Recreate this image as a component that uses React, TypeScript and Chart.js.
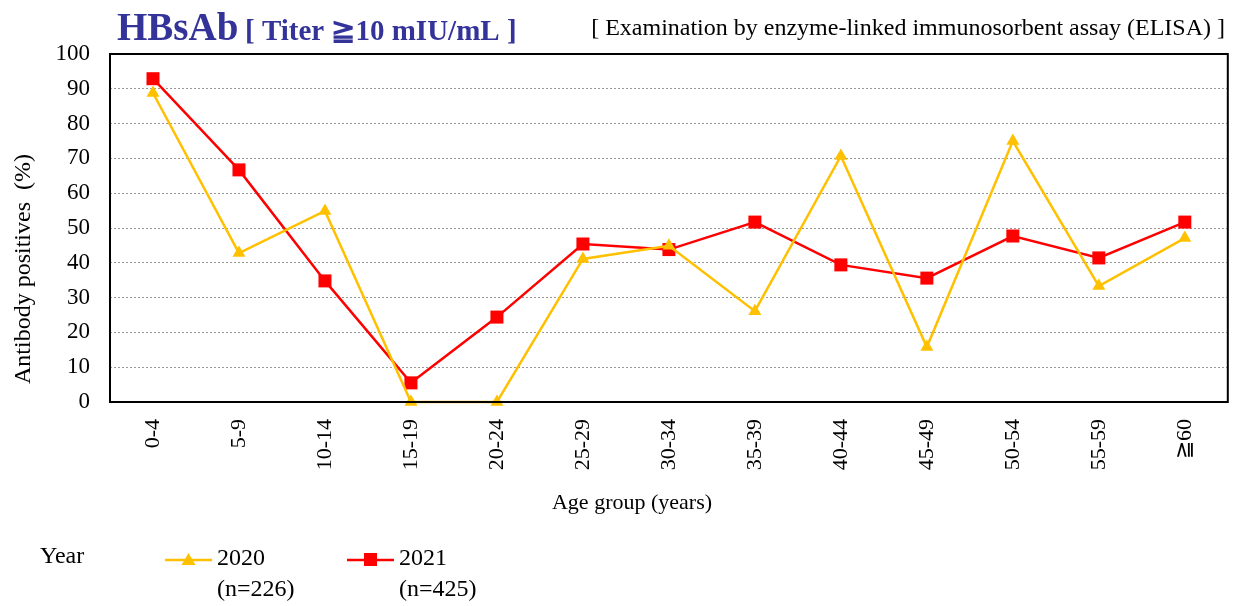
import React, { useEffect, useRef } from "react";
import { Chart, registerables } from "chart.js";

Chart.register(...registerables);

const categories = ["0-4", "5-9", "10-14", "15-19", "20-24", "25-29", "30-34", "35-39", "40-44", "45-49", "50-54", "55-59", "≧60"];
const values2020 = [88.8, 42.8, 54.9, 0, 0, 41.1, 44.9, 26.1, 70.7, 15.8, 75.0, 33.3, 47.1];
const values2021 = [92.9, 66.7, 34.8, 5.5, 24.4, 45.4, 43.8, 51.7, 39.4, 35.6, 47.7, 41.4, 51.7];
const seriesLabels = ["2020", "2021"];
const seriesN = ["(n=226)", "(n=425)"];
const yTicks = [0, 10, 20, 30, 40, 50, 60, 70, 80, 90, 100];

const C2020 = "#FFC000";
const C2021 = "#FF0000";
const SERIF = "'Liberation Serif', 'Times New Roman', serif";

const decorPlugin = {
  id: "decor",
  afterDraw(chart: any) {
    const { ctx, chartArea } = chart;
    const { left, right, top, bottom } = chartArea;
    ctx.save();
    // plot border
    ctx.strokeStyle = "#000";
    ctx.lineWidth = 2;
    ctx.strokeRect(left, top, right - left, bottom - top);

    // Title
    ctx.textBaseline = "alphabetic";
    ctx.textAlign = "left";
    ctx.fillStyle = "#333399";
    ctx.font = `bold 39px ${SERIF}`;
    ctx.fillText("HBsAb", 117, 40);
    ctx.font = `bold 29px ${SERIF}`;
    ctx.fillText("[ Titer ≧10 mIU/mL ]", 245, 40);
    ctx.fillStyle = "#000";
    ctx.font = `24px ${SERIF}`;
    ctx.textAlign = "right";
    ctx.fillText("[ Examination by enzyme-linked immunosorbent assay (ELISA) ]", 1225, 35);

    // Y title
    ctx.save();
    ctx.translate(24, 269);
    ctx.rotate(-Math.PI / 2);
    ctx.textAlign = "center";
    ctx.textBaseline = "middle";
    ctx.font = `24px ${SERIF}`;
    ctx.fillText("Antibody positives  (%)", 0, 0);
    ctx.restore();

    // X title
    ctx.textAlign = "center";
    ctx.textBaseline = "middle";
    ctx.font = `22px ${SERIF}`;
    ctx.fillText("Age group (years)", 632, 503);

    // Legend
    ctx.textAlign = "left";
    ctx.font = `24px ${SERIF}`;
    ctx.fillText("Year", 40, 557);
    const items = [
      { x: 165, color: C2020, style: "triangle" },
      { x: 347, color: C2021, style: "rect" },
    ];
    items.forEach((it, i) => {
      ctx.strokeStyle = it.color;
      ctx.lineWidth = 2.5;
      ctx.beginPath();
      ctx.moveTo(it.x, 560);
      ctx.lineTo(it.x + 47, 560);
      ctx.stroke();
      ctx.fillStyle = it.color;
      const cx = it.x + 23.5;
      if (it.style === "triangle") {
        ctx.beginPath();
        ctx.moveTo(cx, 553);
        ctx.lineTo(cx + 7, 565);
        ctx.lineTo(cx - 7, 565);
        ctx.closePath();
        ctx.fill();
      } else {
        ctx.fillRect(cx - 6.5, 553, 13, 13);
      }
      ctx.fillStyle = "#000";
      ctx.fillText(seriesLabels[i], it.x + 52, 559);
      ctx.fillText(seriesN[i], it.x + 52, 590);
    });
    ctx.restore();
  },
};

export default function App() {
  const ref = useRef<HTMLCanvasElement>(null);
  useEffect(() => {
    document.body.style.margin = "0";
    const chart = new Chart(ref.current as HTMLCanvasElement, {
      type: "line",
      data: {
        labels: categories,
        datasets: [
          {
            label: seriesLabels[0],
            data: values2020,
            borderColor: C2020,
            backgroundColor: C2020,
            borderWidth: 2.5,
            pointStyle: "triangle",
            pointRadius: 7.5,
            pointBorderWidth: 0,
            clip: false as any,
          },
          {
            label: seriesLabels[1],
            data: values2021,
            borderColor: C2021,
            backgroundColor: C2021,
            borderWidth: 2.5,
            pointStyle: "rect",
            pointRadius: 9.2,
            pointBorderWidth: 0,
            clip: false as any,
          },
        ],
      },
      options: {
        animation: false,
        responsive: false,
        layout: { padding: { left: 0, right: 7, top: 54, bottom: 0 } },
        plugins: { legend: { display: false }, tooltip: { enabled: false }, title: { display: false } },
        scales: {
          x: {
            offset: true,
            grid: { display: false, drawTicks: false },
            border: { display: false },
            ticks: {
              autoSkip: false,
              minRotation: 90,
              maxRotation: 90,
              padding: 17,
              color: "#000",
              font: { family: SERIF, size: 22 },
            },
            afterFit: (s: any) => {
              s.height = 204;
            },
          },
          y: {
            min: 0,
            max: 100,
            afterBuildTicks: (s: any) => {
              s.ticks = yTicks.map((v) => ({ value: v }));
            },
            grid: {
              drawTicks: false,
              color: (c: any) => (c.tick && (c.tick.value === 0 || c.tick.value === 100) ? "rgba(0,0,0,0)" : "#999"),
              lineWidth: 1,
            },
            border: { display: false, dash: [2, 2] },
            ticks: {
              padding: 20,
              color: "#000",
              font: { family: SERIF, size: 23 },
            },
            afterFit: (s: any) => {
              s.width = 110;
            },
          },
        },
      },
      plugins: [decorPlugin],
    });
    return () => chart.destroy();
  }, []);
  return (
    <div style={{ width: 1237, height: 606 }}>
      <canvas ref={ref} width={1237} height={606} style={{ display: "block" }} />
    </div>
  );
}
